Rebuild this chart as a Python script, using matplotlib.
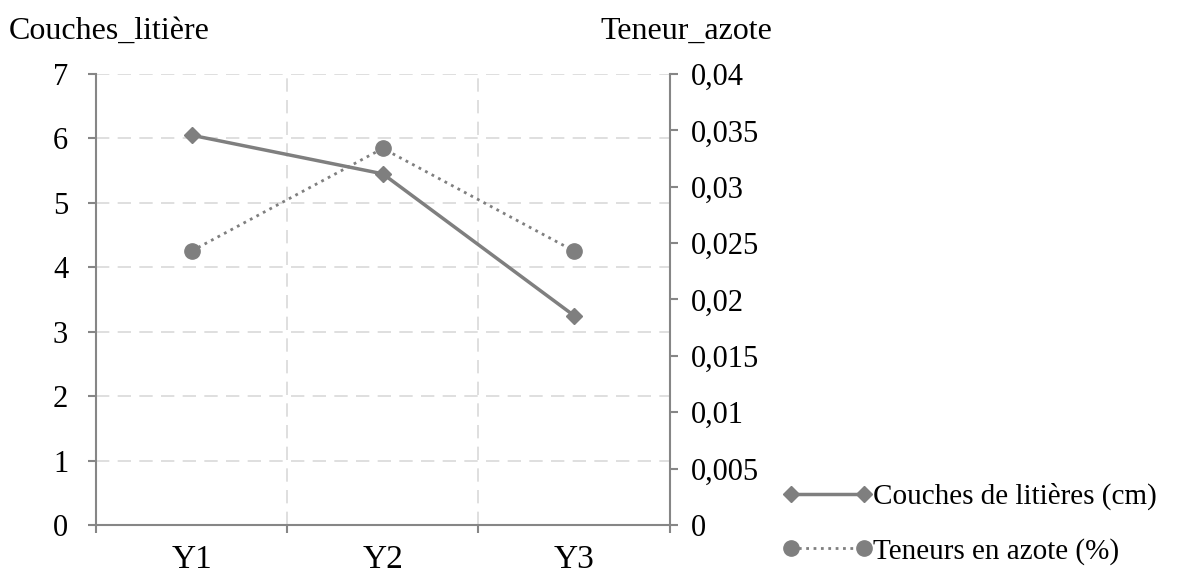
import numpy as np
import matplotlib.pyplot as plt

plt.rcParams['font.family'] = ['Liberation Serif', 'DejaVu Serif']

annees = ['Y1', 'Y2', 'Y3']
couches = [6.05, 5.45, 3.25]
azote = [0.0243, 0.0334, 0.0243]

gris = '#7f7f7f'
axe = '#868686'

fig = plt.figure(figsize=(11.81, 5.74), dpi=100)
ax = fig.add_axes([0.0813, 0.0854, 0.4857, 0.7857])
ax2 = ax.twinx()

x = np.arange(len(annees)) + 0.5
l1, = ax.plot(x, couches, '-', color=gris, lw=2.5, marker='D', ms=8,
              label='Couches de litières (cm)')
l2, = ax2.plot(x, azote, ':', color=gris, lw=2, marker='o', ms=11,
               label='Teneurs en azote (%)')

ax.set_xlim(0, 3)
ax.set_ylim(0, 7)
ax2.set_ylim(0, 0.04)
ax.set_yticks(range(8))
ax2.set_yticks(np.arange(0, 0.0401, 0.005))
ax2.set_yticklabels(['0', '0,005', '0,01', '0,015', '0,02', '0,025', '0,03', '0,035', '0,04'])
ax.set_xticks([0, 1, 2, 3])
ax.set_xticklabels([])
ax.set_xticks(x, minor=True)
ax.set_xticklabels(annees, minor=True)
ax.tick_params(axis='x', which='minor', length=0, pad=14, labelsize=24)
ax.tick_params(axis='x', which='major', length=6, color=axe, width=1.5)
ax.tick_params(axis='y', length=6, color=axe, width=1.5, labelsize=22, pad=14)
ax2.tick_params(axis='y', length=6, color=axe, width=1.5, labelsize=22, pad=9)

ax.grid(True, which='major', color='#d9d9d9', ls=(0, (8, 5)), lw=1.2)
ax.set_axisbelow(True)
for s in ['top']:
    ax.spines[s].set_visible(False)
    ax2.spines[s].set_visible(False)
ax2.spines['left'].set_visible(False)
ax2.spines['bottom'].set_visible(False)
ax.spines['right'].set_visible(False)
for s in ['left', 'bottom']:
    ax.spines[s].set_color(axe)
    ax.spines[s].set_linewidth(1.5)
ax2.spines['right'].set_color(axe)
ax2.spines['right'].set_linewidth(1.5)

fig.text(0.007, 0.945, 'Couches_litière', fontsize=23, ha='left', va='center')
fig.text(0.508, 0.945, 'Teneur_azote', fontsize=23, ha='left', va='center')

fig.legend(handles=[l1, l2], loc='lower left', bbox_to_anchor=(0.64, -0.03),
           frameon=False, fontsize=21, handlelength=3.1, handletextpad=0.0,
           labelspacing=0.95, numpoints=2)

fig.savefig('out.png', dpi=100)
